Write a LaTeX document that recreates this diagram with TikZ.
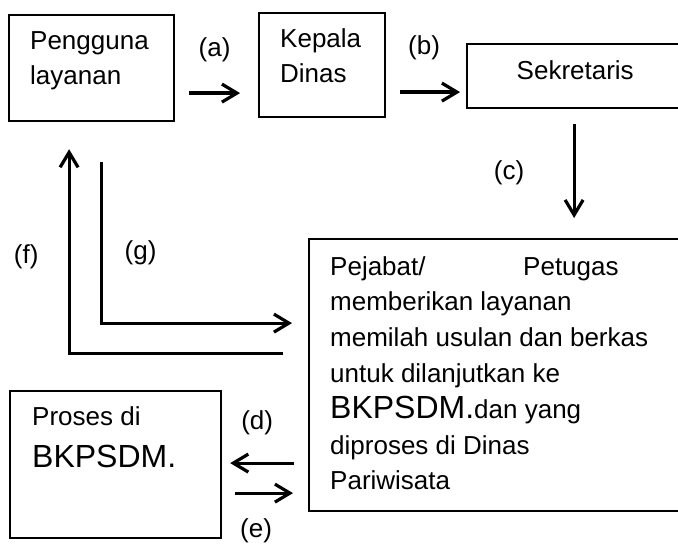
\documentclass[tikz,border=0pt]{standalone}
\usepackage{fontspec}
\setmainfont{Liberation Sans}
\usetikzlibrary{arrows.meta,positioning,calc}
\tikzset{
  kotak/.style={draw, line width=2.2pt, inner sep=0pt},
  isi/.style={align=left, inner sep=0pt, font=\fontsize{26}{35.8}\selectfont},
  panah/.style={line width=3.2pt, -{Straight Barb[length=15pt,width=18pt]}},
  huruf/.style={font=\fontsize{26}{30}\selectfont, inner sep=2pt}
}
\newcommand{\besar}{\fontsize{32}{40}\selectfont}

\begin{document}
\begin{tikzpicture}[x=1pt,y=-1pt]
\useasboundingbox (0,0) rectangle (678,551);

% kotak
\node [kotak, anchor=north west, minimum width=165pt, minimum height=106pt] (pengguna) at (8,14) {};
\node [kotak, anchor=north west, minimum width=126pt, minimum height=104pt] (kepala) at (258,12) {};
\node [kotak, anchor=north west, minimum width=218pt, minimum height=64pt] (sekretaris) at (466,43) {};
\node [kotak, anchor=north west, minimum width=390pt, minimum height=272pt] (pejabat) at (308,238) {};
\node [kotak, anchor=north west, minimum width=211pt, minimum height=147pt] (proses) at (9,390) {};

% isi kotak
\node [isi, below right=17pt and 22pt of pengguna.north west] (pengguna-isi) {Pengguna\\layanan};
\node [isi, below right=16pt and 22pt of kepala.north west] (kepala-isi) {Kepala\\Dinas};
\node [isi, below right=17pt and 50.5pt of sekretaris.north west] (sekretaris-isi) {Sekretaris};
\node [isi, below right=18pt and 22pt of pejabat.north west] (pejabat-isi) {\makebox[193pt][l]{Pejabat/}Petugas\\memberikan layanan\\memilah usulan dan berkas\\untuk dilanjutkan ke\\{\besar BKPSDM.}dan yang\\diproses di Dinas\\Pariwisata};
\node [isi, below right=16pt and 23pt of proses.north west] (proses-isi) {Proses di\\[7pt]{\besar BKPSDM.}};

% alur
\coordinate (a-awal) at ($(pengguna.east)+(14,25)$);
\draw [panah, shorten >=18pt] (a-awal) -- (a-awal -| kepala.west) node [huruf, midway, xshift=-9pt, yshift=43pt] (a-label) {(a)};
\coordinate (b-awal) at ($(kepala.east)+(14,27)$);
\draw [panah, shorten >=6pt] (b-awal) -- (b-awal -| sekretaris.west) node [huruf, midway, xshift=-9pt, yshift=44pt] (b-label) {(b)};
\coordinate (c-awal) at ($(sekretaris.south)+(-2,15)$);
\draw [panah, shorten >=20pt] (c-awal) -- (c-awal |- pejabat.north) node [huruf, midway, xshift=-65pt, yshift=8pt] (c-label) {(c)};
\coordinate (d-awal) at ($(proses.east)+(72,-1.5)$);
\draw [panah, shorten >=8pt] (d-awal) -- (d-awal -| proses.east) node [huruf, midway, xshift=-1pt, yshift=40pt] (d-label) {(d)};
\coordinate (e-awal) at ($(proses.east)+(13,28.5)$);
\draw [panah, shorten >=15pt] (e-awal) -- (e-awal -| pejabat.west) node [huruf, midway, xshift=-15.5pt, yshift=-38pt] (e-label) {(e)};
\coordinate (f-awal) at ($(pejabat.west)+(-25,-22)$);
\coordinate (f-ujung) at ($(pengguna.south)+(-22.5,27)$);
\draw [panah] (f-awal) -- (f-awal -| f-ujung) -- (f-ujung) node [huruf, pos=0.47, left=27pt] (f-label) {(f)};
\coordinate (g-awal) at ($(pengguna.south)+(9.5,40)$);
\coordinate (g-akhir) at ($(pejabat.west)+(-16,-52)$);
\draw [panah] (g-awal) |- (g-akhir) node [huruf, pos=0.28, right=20pt] (g-label) {(g)};
\end{tikzpicture}
\end{document}
